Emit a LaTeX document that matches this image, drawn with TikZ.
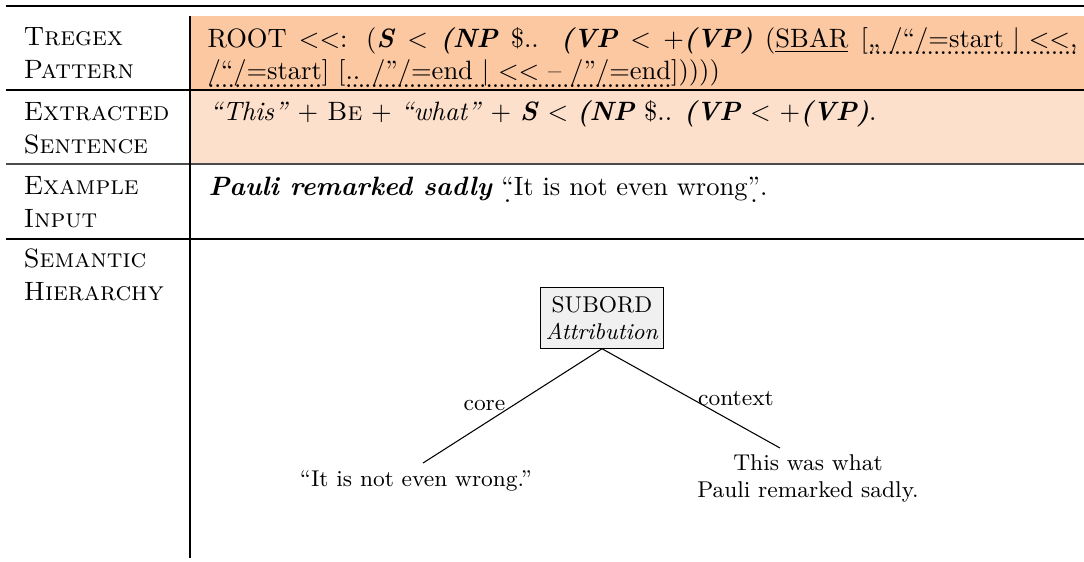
\documentclass[tikz,border=0pt]{standalone}

\definecolor{patfill}{RGB}{251,200,162}
\definecolor{extfill}{RGB}{252,224,204}
\newcommand{\bi}[1]{\textbf{\textit{#1}}}
\newcommand{\ltsym}{\textless\kern0pt}
\newcommand{\solidul}[1]{$\underline{\hbox{#1}}$}
\newcommand{\dotul}[1]{\leavevmode\setbox0=\hbox{#1}%
    \rlap{\raisebox{-3pt}{\hbox to \wd0{\xleaders\hbox to 2.4pt{\hss.\hss}\hfil}}}\box0}

\begin{document}
\begin{tikzpicture}[x=0.377pt, y=-0.377pt,
    rowhead/.style={anchor=base west, align=left, inner sep=0pt,
        font=\fontsize{10}{12.2}\selectfont\scshape},
    cell/.style={anchor=base west, align=left, inner sep=0pt,
        font=\fontsize{10}{12.2}\selectfont},
    relation/.style={draw, fill=black!6, inner xsep=2pt, inner ysep=3.2pt, align=center,
        font=\fontsize{8.6}{10.2}\selectfont},
    leaf/.style={align=center, inner sep=0pt, font=\fontsize{8.6}{10.2}\selectfont},
    edge/.style={thin, -},
    edgelabel/.style={font=\fontsize{8.6}{10.2}\selectfont, inner sep=2.5pt}
]
    \useasboundingbox (0,0) rectangle (1084,561);
    % table
    \fill[patfill] (190,16) rectangle (1084,90);
    \fill[extfill] (190,90) rectangle (1084,164);
    \draw[line width=0.8pt] (6,6) -- (1084,6);
    \draw (6,90) -- (1084,90);
    \draw[black!70, line width=0.6pt] (6,164) -- (1084,164);
    \draw (6,239) -- (1084,239);
    \draw (190,16) -- (190,558);
    \node[rowhead] (pathead) at (23,78) {Tregex\\Pattern};
    \node[rowhead] (exthead) at (23,153) {Extracted\\Sentence};
    \node[rowhead] (inhead) at (23,227) {Example\\Input};
    \node[rowhead] (semhead) at (23,300) {Semantic\\Hierarchy};
    \node[cell, text width=870*0.377pt, align=justify] (pattern) at (207,47) {ROOT \ltsym\ltsym: (\bi{S} \ltsym{} \bi{(NP} \$.. \bi{(VP} \ltsym{} +\bi{(VP)} (\solidul{SBAR} [\dotul{,, /“/=start | \ltsym\ltsym,}\linebreak
        \dotul{/“/=start}] [\dotul{.. /”/=end | \ltsym\ltsym{} -- /”/=end}]))))};
    \node[cell] (extracted) at (209,120) {\textit{“This”} + \textsc{Be} + \textit{“what”} + \bi{S} \ltsym{} \bi{(NP} \$.. \bi{(VP} \ltsym{} +\bi{(VP)}.};
    \node[cell] (input) at (208,195) {\bi{Pauli remarked sadly} \dotul{“}It is not even wrong\dotul{”}.};
    % tree
    \node[relation] (subord) at (602,318) {SUBORD\\\textit{Attribution}};
    \node[leaf] (core) at (416,481) {“It is not even wrong.”};
    \node[leaf] (ctx) at (808,478) {This was what\\Pauli remarked sadly.};
    \coordinate (coreend) at (423,463);
    \coordinate (ctxend) at (780,448);
    \draw[edge] (subord.south) -- node[edgelabel, left] {core} (coreend);
    \draw[edge] (subord.south) -- node[edgelabel, right] {context} (ctxend);
\end{tikzpicture}
\end{document}
